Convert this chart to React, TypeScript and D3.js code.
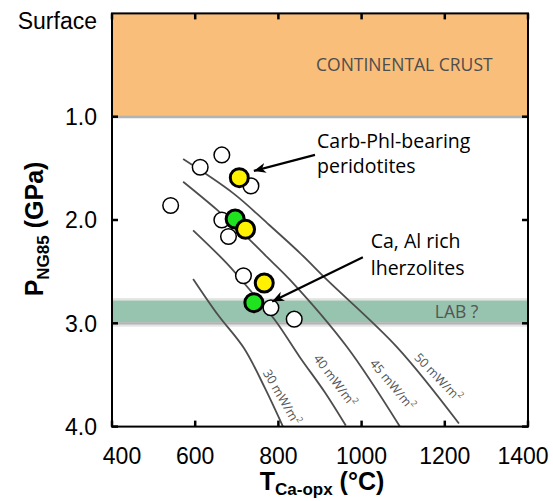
import * as d3 from "d3";

// Temperature ticks (°C) and pressure ticks (GPa)
const xTicks = [400, 600, 800, 1000, 1200, 1400];
const yTicks = [1.0, 2.0, 3.0, 4.0];

// Samples: T (°C), P (GPa)
const openT = [664, 612, 734, 541, 664, 680, 716, 782, 838];
const openP = [1.37, 1.49, 1.67, 1.86, 2.0, 2.16, 2.54, 2.85, 2.96];
const greenT = [696, 741];
const greenP = [1.99, 2.8];
const yellowT = [706, 721, 766];
const yellowP = [1.59, 2.09, 2.61];

// Geotherms [T, P]
const geo30 = [[595, 2.57], [655, 2.92], [717, 3.24], [768, 3.63], [811, 4.0]];
const geo40 = [[595, 2.1], [676, 2.42], [732, 2.68], [792, 2.97], [852, 3.33], [912, 3.67], [962, 3.99]];
const geo45 = [[571, 1.63], [652, 1.9], [715, 2.13], [773, 2.36], [828, 2.58], [965, 3.23], [1092, 4.0]];
const geo50 = [[571, 1.41], [691, 1.74], [773, 2.03], [852, 2.32], [917, 2.58], [1085, 3.23], [1234, 3.97]];
const geoNames = ["30", "40", "45", "50"];
const geoLabelT = [806, 934, 1072, 1182];
const geoLabelP = [3.72, 3.56, 3.6, 3.53];
const geoLabelRot = [60, 53, 50, 46];

const crust = [0, 1.0];
const lab = [2.78, 2.99];

const W = 553;
const H = 501;
const m = { left: 112, right: 25, top: 13.4, bottom: 74.4 };

const sans = "'Liberation Sans', Arial, sans-serif";
const myriad = "'Open Sans', 'Noto Sans', sans-serif";

export default function App() {
  const x = d3.scaleLinear().domain([400, 1400]).range([m.left, W - m.right]);
  const y = d3.scaleLinear().domain([0, 4]).range([m.top, H - m.bottom]);
  const line = d3
    .line<number[]>()
    .x((d) => x(d[0]))
    .y((d) => y(d[1]))
    .curve(d3.curveCatmullRom.alpha(0.5));
  const x0 = x(400), x1 = x(1400), y0 = y(0), y1 = y(4);
  const geos = [geo30, geo40, geo45, geo50];

  return (
    <div style={{ position: "absolute", left: 0, top: 0 }}>
      <svg width={W} height={H} style={{ display: "block", background: "#fff" }}>
        <defs>
          <marker id="ah" markerUnits="userSpaceOnUse" markerWidth={14} markerHeight={12}
            refX={12} refY={5} orient="auto">
            <path d="M0,0 L12,5 L0,10 L3.5,5 z" fill="#000" />
          </marker>
        </defs>

        {/* continental crust */}
        <rect x={x0} y={y(crust[0])} width={x1 - x0} height={y(crust[1]) - y(crust[0])} fill="#F9BE7A" />
        <line x1={x0} x2={x1} y1={y(crust[1]) + 0.3} y2={y(crust[1]) + 0.3} stroke="#B3B3B3" strokeWidth={2.7} />
        <text x={x(1315)} y={71} textAnchor="end" fontFamily={myriad} fontSize={17.5} fill="#4d4d4d">
          CONTINENTAL CRUST
        </text>

        {/* LAB band */}
        <rect x={x0} y={y(lab[0]) - 2.4} width={x1 - x0} height={y(lab[1]) - y(lab[0]) + 6.8} fill="#E3E3E3" />
        <rect x={x0} y={y(lab[0])} width={x1 - x0} height={y(lab[1]) - y(lab[0])} fill="#97C4AF" />
        <rect x={x0} y={y(lab[1])} width={x1 - x0} height={2.2} fill="#B3B3B3" />
        <text x={x(1176)} y={y(2.95)} fontFamily={myriad} fontSize={17.5} fill="#555">
          LAB ?
        </text>

        {/* geotherms */}
        {geos.map((g, i) => (
          <path key={i} d={line(g) ?? ""} fill="none" stroke="#4d4d4d" strokeWidth={1.8} />
        ))}
        {geoNames.map((n, i) => (
          <text key={n} transform={`translate(${x(geoLabelT[i])},${y(geoLabelP[i])}) rotate(${geoLabelRot[i]})`}
            textAnchor="middle" dominantBaseline="middle" fontFamily={myriad} fontSize={12.5} fill="#555">
            {n} mW/m<tspan fontSize={8.5} dy={-4.5}>2</tspan>
          </text>
        ))}

        {/* samples */}
        {openT.map((t, i) => (
          <circle key={"o" + i} cx={x(t)} cy={y(openP[i])} r={7.8} fill="#fff" stroke="#000" strokeWidth={1.5} />
        ))}
        {greenT.map((t, i) => (
          <circle key={"g" + i} cx={x(t)} cy={y(greenP[i])} r={9} fill="#1EE31E" stroke="#000" strokeWidth={3} />
        ))}
        {yellowT.map((t, i) => (
          <circle key={"y" + i} cx={x(t)} cy={y(yellowP[i])} r={9} fill="#FFF100" stroke="#000" strokeWidth={3} />
        ))}

        {/* annotations */}
        <line x1={x(888)} y1={y(1.37)} x2={x(741)} y2={y(1.525)} stroke="#000" strokeWidth={2.2} markerEnd="url(#ah)" />
        <line x1={x(1003)} y1={y(2.36)} x2={x(785)} y2={y(2.79)} stroke="#000" strokeWidth={2.2} markerEnd="url(#ah)" />
        <text fontFamily={myriad} fontSize={19.5} fill="#000">
          <tspan x={x(893)} y={y(1.306)}>Carb-Phl-bearing</tspan>
          <tspan x={x(893)} y={y(1.548)}>peridotites</tspan>
        </text>
        <text fontFamily={myriad} fontSize={19.5} fill="#000">
          <tspan x={x(1022)} y={y(2.274)}>Ca, Al rich</tspan>
          <tspan x={x(1022)} y={y(2.532)}>lherzolites</tspan>
        </text>

        {/* frame */}
        <rect x={x0} y={y0} width={x1 - x0} height={y1 - y0} fill="none" stroke="#000" strokeWidth={2} />
        {xTicks.map((t) => (
          <g key={"xt" + t}>
            <line x1={x(t)} x2={x(t)} y1={y1} y2={y1 - 6} stroke="#000" strokeWidth={2.5} />
            <line x1={x(t)} x2={x(t)} y1={y0} y2={y0 + 6} stroke="#000" strokeWidth={2.5} />
            <text x={x(t) + (t === 400 ? 10 : t === 1400 ? -5 : 0)} y={463.5} textAnchor="middle"
              fontFamily={sans} fontSize={23} fill="#000">{t}</text>
          </g>
        ))}
        {yTicks.map((p) => (
          <g key={"yt" + p}>
            <line x1={x0} x2={x0 + 6} y1={y(p)} y2={y(p)} stroke="#000" strokeWidth={2.5} />
            <line x1={x1} x2={x1 - 6} y1={y(p)} y2={y(p)} stroke="#000" strokeWidth={2.5} />
            <text x={97} y={y(p) + 8.3} textAnchor="end" fontFamily={sans} fontSize={23} fill="#000">
              {p.toFixed(1)}
            </text>
          </g>
        ))}
        <text x={97} y={28.5} textAnchor="end" fontFamily={sans} fontSize={23} fill="#000">Surface</text>

        {/* axis titles */}
        <text x={(x0 + x1) / 2 + 2} y={490} textAnchor="middle" fontFamily={sans} fontWeight="bold" fontSize={25}>
          T<tspan fontSize={17} dy={5}>Ca-opx</tspan>
          <tspan dy={-5}> (°C)</tspan>
        </text>
        <text transform={`translate(43,229) rotate(-90)`} textAnchor="middle" fontFamily={sans}
          fontWeight="bold" fontSize={25}>
          P<tspan fontSize={17} dy={6}>NG85</tspan>
          <tspan dy={-6}> (GPa)</tspan>
        </text>
      </svg>
    </div>
  );
}
